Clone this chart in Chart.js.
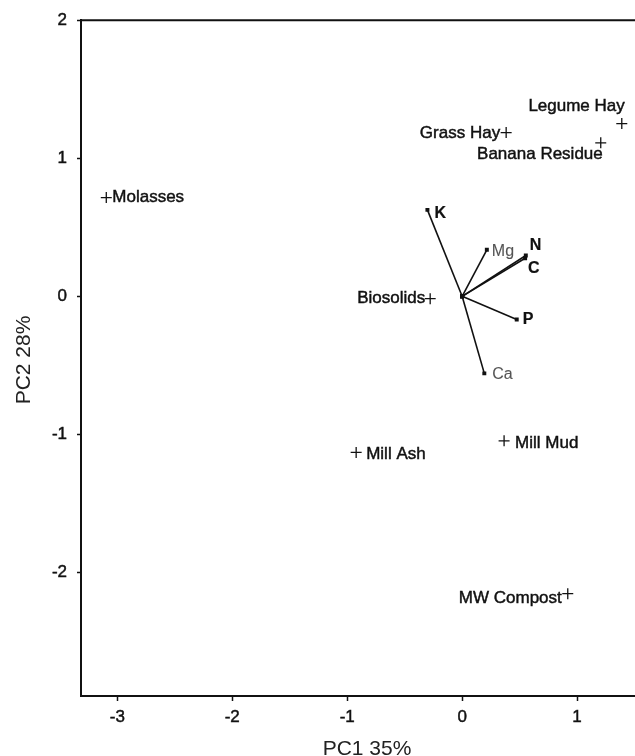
<!DOCTYPE html>
<html>
<head>
<meta charset="utf-8">
<script src="https://cdn.jsdelivr.net/npm/chart.js"></script>
<style>
  body { margin: 0; background: #fff; }
  canvas { display: block; }
</style>
</head>
<body>
<canvas id="pcaChart" width="635" height="756"></canvas>
<script>
// Muestras (puntuaciones PC1 / PC2)
const sampleNames = ['Molasses', 'Grass Hay', 'Legume Hay', 'Banana Residue', 'Biosolids', 'Mill Ash', 'Mill Mud', 'MW Compost'];
const sampleX = [-3.096, 0.383, 1.389, 1.206, -0.278, -0.922, 0.365, 0.919];
const sampleY = [0.715, 1.186, 1.251, 1.112, -0.017, -1.131, -1.047, -2.154];

// Vectores de variables (cargas)
const varNames = ['K', 'Mg', 'N', 'C', 'P', 'Ca'];
const varX = [-0.302, 0.215, 0.554, 0.548, 0.475, 0.193];
const varY = [0.626, 0.337, 0.296, 0.276, -0.168, -0.558];

// Marcas de los ejes
const xTicks = [-3, -2, -1, 0, 1];
const yTicks = [2, 1, 0, -1, -2];
const xTitle = 'PC1 35%';
const yTitle = 'PC2 28%';

const FONT = "'Liberation Sans', Arial, Helvetica, sans-serif";

// Colocación de etiquetas: [alineación, dx, dy]
const sampleLabelPos = [
    ['left', 6, 0], ['right', -6, 1], ['right', 3, -17], ['right', 2, 12],
    ['right', -5, 0], ['left', 10, 2], ['left', 11, 2], ['right', -6, 5]
];
const varLabelPos = [[7, 4], [5, 2], [4, -10], [3, 10], [6, 0], [8, 1]];
const varBold = [true, false, true, true, true, false];

let datasets = [{
    label: 'samples',
    data: sampleX.map((x, i) => ({ x: x, y: sampleY[i] })),
    pointStyle: 'cross',
    pointRadius: 5.5,
    pointBorderWidth: 1.3,
    borderColor: '#111',
    showLine: false
}];

varNames.forEach((name, i) => {
    datasets.push({
        label: name,
        data: [{ x: 0, y: 0 }, { x: varX[i], y: varY[i] }],
        showLine: true,
        borderColor: '#111',
        borderWidth: 1.6,
        pointStyle: 'rect',
        pointRadius: 2.8,
        pointBackgroundColor: '#111',
        pointBorderColor: '#111',
        pointBorderWidth: 0
    });
});

// Texto algo más grueso, como en el original
function drawText(ctx, text, x, y) {
    ctx.fillText(text, x, y);
    ctx.strokeText(text, x, y);
}

// Borde superior, títulos de ejes y etiquetas de texto
const labelsPlugin = {
    id: 'labels',
    afterDatasetsDraw(chart) {
        const ctx = chart.ctx;
        const xs = chart.scales.x;
        const ys = chart.scales.y;
        const area = chart.chartArea;

        ctx.save();
        ctx.strokeStyle = '#111';
        ctx.lineWidth = 2;
        ctx.beginPath();
        ctx.moveTo(area.left - 1, area.top);
        ctx.lineTo(area.right, area.top);
        ctx.stroke();

        // títulos de ejes (la figura original está recortada a la derecha)
        ctx.fillStyle = '#222';
        ctx.font = '21px ' + FONT;
        ctx.textAlign = 'center';
        ctx.textBaseline = 'middle';
        ctx.fillText(xTitle, 367, 749);
        ctx.save();
        ctx.translate(24, 360);
        ctx.rotate(-Math.PI / 2);
        ctx.fillText(yTitle, 0, 0);
        ctx.restore();

        ctx.font = '17px ' + FONT;
        ctx.fillStyle = '#111';
        ctx.strokeStyle = '#111';
        ctx.lineWidth = 0.45;
        sampleNames.forEach((name, i) => {
            const p = sampleLabelPos[i];
            ctx.textAlign = p[0];
            drawText(ctx, name, xs.getPixelForValue(sampleX[i]) + p[1], ys.getPixelForValue(sampleY[i]) + p[2]);
        });

        ctx.textAlign = 'left';
        varNames.forEach((name, i) => {
            const p = varLabelPos[i];
            ctx.font = (varBold[i] ? 'bold 16px ' : '16px ') + FONT;
            ctx.fillStyle = varBold[i] ? '#111' : '#555';
            ctx.strokeStyle = ctx.fillStyle;
            ctx.lineWidth = varBold[i] ? 0.2 : 0.1;
            drawText(ctx, name, xs.getPixelForValue(varX[i]) + p[0], ys.getPixelForValue(varY[i]) + p[1]);
        });
        ctx.restore();
    }
};

const ctx = document.getElementById('pcaChart').getContext('2d');
const pcaChart = new Chart(ctx, {
    type: 'scatter',
    data: { datasets: datasets },
    plugins: [labelsPlugin],
    options: {
        responsive: false,
        animation: false,
        layout: { autoPadding: false, padding: { top: 18, right: 0, left: 0, bottom: 0 } },
        plugins: {
            legend: { display: false },
            tooltip: { enabled: false }
        },
        scales: {
            x: {
                type: 'linear',
                min: -3.316,
                max: 1.504,
                afterBuildTicks: s => { s.ticks = xTicks.map(v => ({ value: v })); },
                afterFit: s => { s.height = 60; s.paddingRight = 0; s.paddingLeft = 0; },
                grid: { drawOnChartArea: false, drawTicks: true, tickLength: 5, tickColor: '#111', tickWidth: 1.5 },
                border: { display: true, color: '#111', width: 2 },
                ticks: { color: '#111', font: { family: FONT, size: 17 }, padding: 6, maxRotation: 0, textStrokeColor: '#111', textStrokeWidth: 0.45 }
            },
            y: {
                type: 'linear',
                min: -2.895,
                max: 2,
                afterBuildTicks: s => { s.ticks = yTicks.map(v => ({ value: v })); },
                afterFit: s => { s.width = 81; },
                grid: { drawOnChartArea: false, drawTicks: true, tickLength: 4, tickColor: '#111', tickWidth: 1.5 },
                border: { display: true, color: '#111', width: 2 },
                ticks: { color: '#111', font: { family: FONT, size: 17 }, padding: 10, textStrokeColor: '#111', textStrokeWidth: 0.45 }
            }
        }
    }
});
</script>
</body>
</html>
